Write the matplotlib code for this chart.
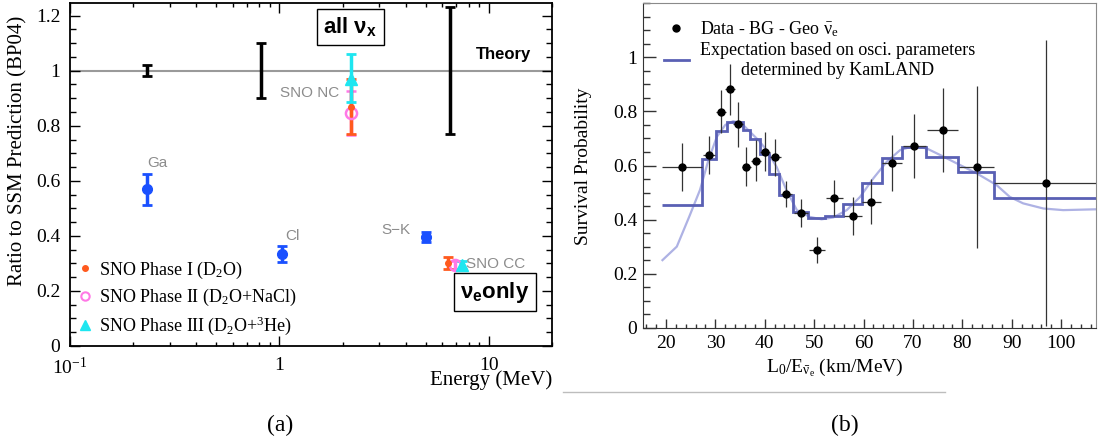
import matplotlib
matplotlib.use("Agg")
import matplotlib.pyplot as plt
from matplotlib.lines import Line2D
from matplotlib.ticker import (FixedLocator, MultipleLocator, LogLocator,
                               NullFormatter, FuncFormatter)

plt.rcParams["font.family"] = ["Liberation Serif", "DejaVu Serif"]
plt.rcParams["mathtext.fontset"] = "custom"
plt.rcParams["mathtext.rm"] = "Liberation Serif"
plt.rcParams["mathtext.it"] = "Liberation Serif:italic"
plt.rcParams["mathtext.bf"] = "Liberation Sans:bold"
plt.rcParams["mathtext.default"] = "rm"

# ---- panel (a): solar neutrino rates / SSM ----
theory_E = [0.233, 0.82, 6.5]
theory_val = [1.0, 1.0, 1.0]
theory_err = [0.02, 0.10, 0.23]

exp_E = [0.233, 1.03, 5.0]           # Ga, Cl, S-K
exp_ratio = [0.57, 0.335, 0.397]
exp_err = [0.056, 0.03, 0.018]

# SNO: [NC, CC]
sno1_E = [2.2, 6.37]
sno1_ratio = [0.87, 0.300]
sno1_lo = [0.10, 0.022]
sno1_hi = [0.10, 0.022]

sno2_E = [2.2, 6.9]
sno2_ratio = [0.848, 0.293]
sno2_lo = [0.08, 0.015]
sno2_hi = [0.077, 0.015]

sno3_E = [2.2, 7.4]
sno3_ratio = [0.97, 0.295]
sno3_lo = [0.085, 0.015]
sno3_hi = [0.09, 0.015]

# ---- panel (b): KamLAND survival probability ----
kl_x = [23.3, 28.8, 31.1, 33.0, 34.6, 36.3, 38.2, 40.0, 42.1, 44.4,
        47.3, 50.5, 54.1, 57.8, 61.6, 65.7, 70.3, 76.0, 82.9, 96.9]
kl_y = [0.595, 0.640, 0.799, 0.882, 0.752, 0.595, 0.618, 0.651, 0.630, 0.493,
        0.423, 0.287, 0.479, 0.414, 0.466, 0.610, 0.672, 0.731, 0.595, 0.536]
kl_yerr = [0.09, 0.07, 0.08, 0.094, 0.083, 0.072, 0.075, 0.072, 0.068, 0.048,
           0.052, 0.048, 0.066, 0.071, 0.083, 0.103, 0.12, 0.154, 0.30, 0.53]
kl_xerr_lo = [4.0, 1.2, 1.0, 1.0, 1.0, 1.0, 1.0, 1.0, 1.1, 1.2,
              1.45, 1.6, 1.8, 1.8, 1.9, 2.0, 2.35, 3.2, 3.6, 10.5]
kl_xerr_hi = [4.0, 1.2, 1.0, 1.0, 1.0, 1.0, 1.0, 1.0, 1.1, 1.2,
              1.45, 1.6, 1.8, 1.8, 1.9, 2.0, 2.35, 3.2, 3.6, 11.0]

hist_edges = [19.3, 27.4, 30.1, 32.3, 35.5, 37.1, 39.0, 40.9, 42.9, 45.8,
              48.8, 52.2, 55.9, 59.6, 63.7, 67.7, 72.7, 79.2, 86.4, 107.5]
hist_vals = [0.454, 0.624, 0.727, 0.760, 0.731, 0.697, 0.641, 0.568, 0.490,
             0.429, 0.407, 0.413, 0.458, 0.536, 0.629, 0.667, 0.632, 0.577, 0.481]

curve_x = [19.3, 22.2, 24.7, 26.9, 28.6, 30.3, 32.0, 33.6, 35.3, 37.0, 38.7,
           40.4, 42.4, 44.4, 46.5, 49.1, 51.5, 53.9, 56.6, 59.3, 62.0, 64.7,
           67.4, 70.1, 72.8, 75.5, 78.2, 82.9, 86.9, 89.6, 92.3, 96.4, 100.4, 107.0]
curve_y = [0.25, 0.30, 0.41, 0.51, 0.62, 0.706, 0.75, 0.764, 0.756, 0.725, 0.694,
           0.657, 0.595, 0.509, 0.435, 0.41, 0.401, 0.408, 0.435, 0.484, 0.553, 0.614,
           0.657, 0.672, 0.663, 0.639, 0.614, 0.571, 0.528, 0.484, 0.46, 0.441, 0.435, 0.438]

blue = "#1a50ff"
orange = "#ff5a1e"
magenta = "#ff78e6"
cyan = "#1ee6f0"
gray_txt = "#8c8c8c"

fig = plt.figure(figsize=(11.12, 4.48), dpi=100)

# ===================== panel (a) =====================
ax1 = fig.add_axes([0.0629, 0.2277, 0.4335, 0.7656])
ax1.set_xscale("log")
ax1.set_xlim(0.1, 20)
ax1.set_ylim(0, 1.246)

ax1.axhline(1.0, color="#9a9a9a", lw=1.5, zorder=1)
ax1.errorbar(theory_E, theory_val, yerr=theory_err, fmt="none", ecolor="black",
             elinewidth=2.5, capsize=3.5, capthick=2)
ax1.errorbar(exp_E, exp_ratio, yerr=exp_err, fmt="o", color=blue, ms=7,
             elinewidth=2.5, capsize=3.5, capthick=2)
ax1.errorbar(sno2_E, sno2_ratio, yerr=[sno2_lo, sno2_hi], fmt="o", color=magenta,
             mfc="none", mew=1.8, ms=8, elinewidth=2.5, capsize=3.5, capthick=2)
ax1.errorbar(sno1_E, sno1_ratio, yerr=[sno1_lo, sno1_hi], fmt="o", color=orange,
             ms=4, elinewidth=2.5, capsize=3.5, capthick=2, ls="none")
ax1.errorbar(sno3_E, sno3_ratio, yerr=[sno3_lo, sno3_hi], fmt="^", color=cyan,
             ms=8, elinewidth=2.5, capsize=3.5, capthick=2)

# gray experiment labels
lab_kw = dict(color=gray_txt, fontsize=11, family="Liberation Sans",
              ha="center", va="center")
ax1.text(0.26, 0.665, "Ga", **lab_kw)
ax1.text(1.15, 0.40, "Cl", **lab_kw)
ax1.text(3.6, 0.422, "S\u2212K", **lab_kw)
ax1.text(1.40, 0.92, "SNO NC", **lab_kw)
ax1.text(7.8, 0.298, "SNO CC", color=gray_txt, fontsize=11,
         family="Liberation Sans", ha="left", va="center")

ax1.text(11.8, 1.058, "Theory", fontsize=12, family="Liberation Sans",
         weight="bold", ha="center", va="center")
box = dict(boxstyle="square,pad=0.3", fc="white", ec="black", lw=1)
ax1.text(2.18, 1.16, r"all ν$_{\mathbf{x}}$", fontsize=16, family="Liberation Sans",
         weight="bold", ha="center", va="center", bbox=box)
ax1.text(10.7, 0.196, r"ν$_{\mathbf{e}}$only", fontsize=16, family="Liberation Sans",
         weight="bold", ha="center", va="center", bbox=box)

handles = [Line2D([], [], ls="none", marker="o", color=orange, ms=4),
           Line2D([], [], ls="none", marker="o", color=magenta, mfc="none", mew=1.5, ms=6),
           Line2D([], [], ls="none", marker="^", color=cyan, ms=7)]
labels = [r"SNO Phase I (D$_2$O)", r"SNO Phase II (D$_2$O+NaCl)",
          r"SNO Phase III (D$_2$O+$^3$He)"]
ax1.legend(handles, labels, loc="lower left", bbox_to_anchor=(0.0, 0.0),
           frameon=False, fontsize=13, handlelength=0.7, handletextpad=0.4,
           labelspacing=0.35, borderpad=0.3, borderaxespad=0.2)

ax1.yaxis.set_major_locator(MultipleLocator(0.2))
ax1.yaxis.set_minor_locator(MultipleLocator(0.05))
ax1.yaxis.set_major_formatter(FuncFormatter(lambda v, p: f"{v:g}"))
ax1.xaxis.set_major_locator(FixedLocator([0.1, 1, 10]))
ax1.set_xticklabels([r"$10^{-1}$", "1", "10"])
ax1.xaxis.set_minor_locator(LogLocator(base=10, subs=range(2, 10)))
ax1.xaxis.set_minor_formatter(NullFormatter())
ax1.tick_params(which="both", direction="in", top=True, right=True,
                labelsize=14, width=1)
ax1.tick_params(axis="y", which="major", length=7, pad=7)
ax1.tick_params(axis="y", which="minor", length=4.5)
ax1.tick_params(axis="x", which="major", length=7, pad=8)
ax1.tick_params(axis="x", which="minor", length=3)
for s in ax1.spines.values():
    s.set_linewidth(1.3)

ax1.text(1.0, -0.099, "Energy (MeV)", transform=ax1.transAxes, fontsize=15,
         ha="right", va="center")
fig.text(18 / 1112, 1 - 151 / 448, "Ratio to SSM Prediction (BP04)", rotation=90,
         fontsize=15, ha="center", va="center")

# ===================== panel (b) =====================
ax2 = fig.add_axes([0.5782, 0.2685, 0.4074, 0.7241])
ax2.set_xlim(15.35, 107.05)
ax2.set_ylim(0, 1.2)

ax2.plot(curve_x, curve_y, color="#aeb2e4", lw=1.6, zorder=2)
ax2.stairs(hist_vals, hist_edges, baseline=None, color="#5a60b4", lw=2.0, zorder=3)
ax2.errorbar(kl_x, kl_y, yerr=kl_yerr, xerr=[kl_xerr_lo, kl_xerr_hi], fmt="o",
             color="black", ms=5, ecolor="#333333", elinewidth=0.9, capsize=0,
             zorder=4)

leg_handles = [Line2D([], [], ls="none", marker="o", color="black", ms=5),
               Line2D([], [], color="#5a60b4", lw=2.0)]
leg_labels = [r"Data - BG - Geo $\bar{\nu}_e$",
              "Expectation based on osci. parameters\ndetermined by KamLAND"]
leg = ax2.legend(leg_handles, leg_labels, loc="upper left",
                 bbox_to_anchor=(0.01, 1.0), frameon=False, fontsize=13,
                 handlelength=1.4, handletextpad=0.6, labelspacing=0.15,
                 borderpad=0.4)
for t in leg.get_texts():
    t.set_multialignment("center")

ax2.yaxis.set_major_locator(FixedLocator([0, 0.2, 0.4, 0.6, 0.8, 1.0]))
ax2.yaxis.set_minor_locator(MultipleLocator(0.05))
ax2.yaxis.set_major_formatter(FuncFormatter(lambda v, p: f"{v:g}"))
ax2.xaxis.set_major_locator(MultipleLocator(10))
ax2.xaxis.set_minor_locator(MultipleLocator(2))
ax2.tick_params(which="both", direction="in", labelsize=14, width=1,
                colors="#333333", labelcolor="black")
ax2.tick_params(axis="y", which="major", length=9.5, pad=4)
ax2.tick_params(axis="y", which="minor", length=5)
ax2.tick_params(axis="x", which="major", length=6.5, pad=5)
ax2.tick_params(axis="x", which="minor", length=3)
ax2.spines["left"].set_color("#333333")
ax2.spines["bottom"].set_color("#333333")
ax2.spines["top"].set_color("#8a8a8a")
ax2.spines["right"].set_color("#8a8a8a")

ax2.text(0.424, -0.124, r"L$_0$/E$_{\bar{\nu}_e}$ (km/MeV)", transform=ax2.transAxes,
         fontsize=14, ha="center", va="center")
fig.text(583 / 1112, 1 - 166 / 448, "Survival Probability", rotation=90,
         fontsize=14, ha="center", va="center")

# captions and separator
fig.add_artist(Line2D([563 / 1112, 945 / 1112], [1 - 392 / 448] * 2,
                      color="#bdbdbd", lw=1))
fig.text(280 / 1112, 1 - 425 / 448, "(a)", fontsize=17, ha="center", va="center")
fig.text(845 / 1112, 1 - 425 / 448, "(b)", fontsize=17, ha="center", va="center")

fig.savefig("out.png", dpi=100)
